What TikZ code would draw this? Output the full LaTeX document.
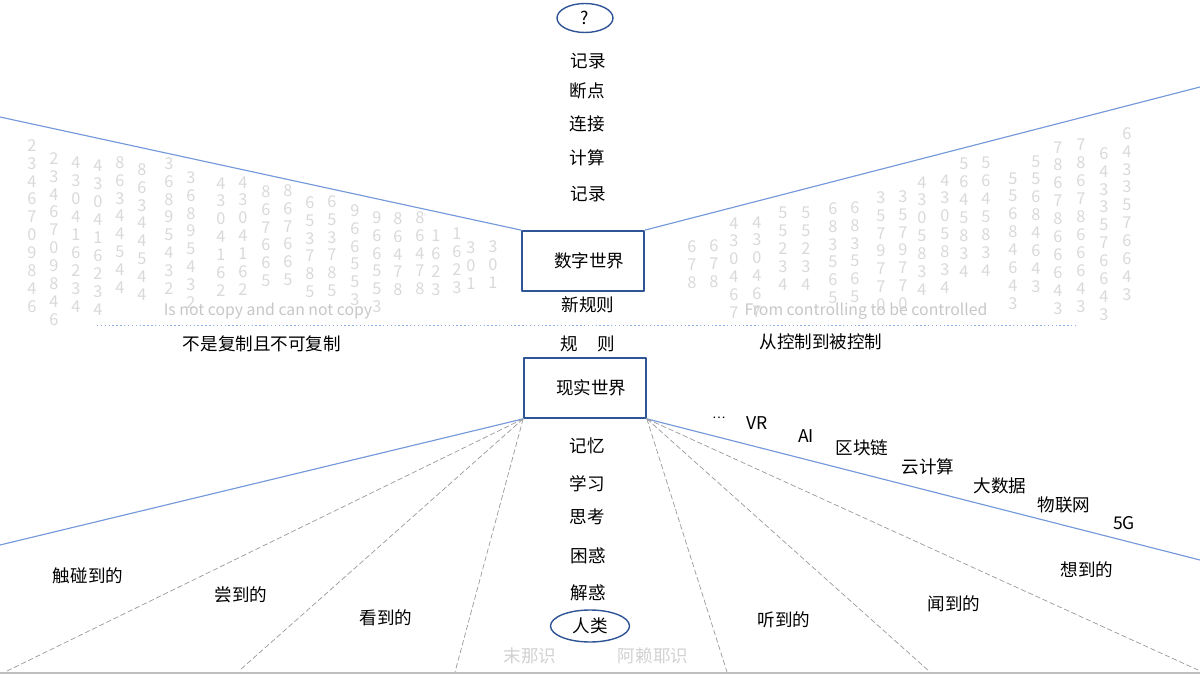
\documentclass[tikz,border=0pt]{standalone}
\usepackage{fontspec}
\setmainfont{Noto Sans CJK SC}
\usepackage{xcolor}
\usetikzlibrary{shapes.geometric}
\definecolor{boxblue}{HTML}{2F5597}
\definecolor{lineblue}{HTML}{7398DB}
\tikzset{
  every picture/.style={line join=round},
}

\begin{document}
\begin{tikzpicture}[
  x=0.02cm,y=-0.02cm,
  every node/.style={font=\fontsize{10}{12}\selectfont},
  box/.style={draw=boxblue,line width=1pt,minimum width=2.44cm,minimum height=1.2cm,inner sep=0pt},
  oval/.style={draw=boxblue,ellipse,line width=0.8pt,inner sep=0pt},
  lab/.style={inner sep=1pt},
  faint/.style={text=black!22,inner sep=0pt,font=\fontsize{9}{11}\selectfont},
  dig/.style={text=black!15,font=\fontsize{9.3}{10.2}\selectfont,align=center,anchor=north,inner sep=0pt},
  blueln/.style={draw=lineblue,line width=0.65pt},
  greydash/.style={draw=black!40,line width=0.4pt,dash pattern=on 3pt off 1.5pt},
  sep/.style={draw=lineblue!80,line width=0.5pt,dash pattern=on 0.8pt off 1.4pt}
]
\useasboundingbox (0,0) rectangle (1200,675);

% faint digit columns
\foreach \x/\y/\d [count=\i] in {
  32/145/{2\\3\\4\\6\\7\\0\\9\\8\\4\\6}, 54/158/{2\\3\\4\\6\\7\\0\\9\\8\\4\\6},
  76/163/{4\\3\\0\\4\\1\\6\\2\\3\\4}, 98/166/{4\\3\\0\\4\\1\\6\\2\\3\\4},
  120/162/{8\\6\\3\\4\\4\\5\\4\\4}, 142/169/{8\\6\\3\\4\\4\\5\\4\\4},
  169/163/{3\\6\\8\\9\\5\\4\\3\\2}, 191/177/{3\\6\\8\\9\\5\\4\\3\\2},
  221/183/{4\\3\\0\\4\\1\\6\\2}, 243/182/{4\\3\\0\\4\\1\\6\\2},
  266/191/{8\\6\\7\\6\\6\\5}, 288/190/{8\\6\\7\\6\\6\\5},
  310/202/{6\\5\\3\\7\\8\\5}, 332/201/{6\\5\\3\\7\\8\\5},
  355/210/{9\\6\\6\\5\\5\\3}, 377/217/{9\\6\\6\\5\\5\\3},
  398/218/{8\\6\\4\\7\\8}, 420/217/{8\\6\\4\\7\\8},
  436/236/{1\\6\\2\\3}, 457/234/{1\\6\\2\\3},
  471/247/{3\\0\\1}, 493/246/{3\\0\\1}}
  \node[dig] (ld\i) at (\x,\y-6) {\d};

\foreach \x/\y/\d [count=\i] in {
  692/246/{6\\7\\8}, 714/245/{6\\7\\8},
  734/223/{4\\3\\0\\4\\6\\7}, 757/222/{4\\3\\0\\4\\6\\7},
  783/213/{5\\5\\2\\3\\4}, 806/213/{5\\5\\2\\3\\4},
  833/208/{6\\8\\3\\5\\6\\5}, 855/207/{6\\8\\3\\5\\6\\5},
  881/197/{3\\5\\7\\9\\7\\7\\0}, 903/196/{3\\5\\7\\9\\7\\7\\0},
  922/182/{4\\3\\0\\5\\8\\3\\4}, 945/180/{4\\3\\0\\5\\8\\3\\4},
  964/164/{5\\6\\4\\5\\8\\3\\4}, 986/163/{5\\6\\4\\5\\8\\3\\4},
  1013/178/{5\\5\\6\\8\\4\\6\\4\\3}, 1036/161/{5\\5\\6\\8\\4\\6\\4\\3},
  1058/147/{7\\8\\6\\7\\8\\6\\6\\6\\4\\3}, 1081/145/{7\\8\\6\\7\\8\\6\\6\\6\\4\\3},
  1104/153/{6\\4\\3\\3\\5\\7\\6\\6\\4\\3}, 1127/133/{6\\4\\3\\3\\5\\7\\6\\6\\4\\3}}
  \node[dig] (rd\i) at (\x,\y-6) {\d};

\node[faint] (notcopy) at (268,311) {Is not copy and can not copy};
\node[faint] (fromctrl) at (866,311) {From controlling to be controlled};

% top column
\node[oval,minimum width=1.12cm,minimum height=0.58cm] (q) at (585,18) {?};
\node[lab] (rec1) at (588,61) {记录};
\node[lab] (brk) at (587,91) {断点};
\node[lab] (conn) at (587,124) {连接};
\node[lab] (calc) at (587,158) {计算};
\node[lab] (rec2) at (588,194) {记录};

\node[box] (digital) at (583,261) {\hspace{7pt}数字世界};
\node[lab] (newrule) at (588,305) {新规则};

\node[lab] (rule) at (588,344) {规\hspace{1.1em}则};
\node[box] (real) at (585,388) {\hspace{7pt}现实世界};

\node[lab] (mem) at (587,446) {记忆};
\node[lab] (learn) at (587,484) {学习};
\node[lab] (think) at (587,517) {思考};
\node[lab] (puzzle) at (588,556) {困惑};
\node[lab] (solve) at (588,593) {解惑};
\node[oval,minimum width=1.58cm,minimum height=0.64cm] (human) at (590,626) {人类};
\node[lab,text=black!18] (mana) at (530,656) {末那识};
\node[lab,text=black!18] (alaya) at (653,656) {阿赖耶识};

% separator
\coordinate (sepl) at (97,325);
\coordinate (sepr) at (1075,325);
\draw[sep] (sepl) -- (sepr);
\node[lab] (notcopycn) at (262,344) {不是复制且不可复制};
\node[lab] (ctrlcn) at (821,342) {从控制到被控制};

% wedges
\coordinate (tl) at (0,117);
\coordinate (tr) at (1200,87);
\coordinate (bl) at (0,545);
\coordinate (br) at (1200,560);
\draw[blueln] (digital.north west) -- (tl);
\draw[blueln] (digital.north east) -- (tr);
\draw[blueln] (real.south west) -- (bl);
\draw[blueln] (real.south east) -- (br);

\coordinate (f1) at (5,672);
\coordinate (f2) at (240,670);
\coordinate (f3) at (455,672);
\coordinate (f4) at (727,672);
\coordinate (f5) at (930,672);
\coordinate (f6) at (1198,670);
\foreach \f in {f1,f2,f3}
  \draw[greydash] (real.south west) -- (\f);
\foreach \f in {f4,f5,f6}
  \draw[greydash] (real.south east) -- (\f);

\coordinate (gl) at (0,673);
\coordinate (gr) at (1200,673);
\draw[black!25,line width=0.8pt] (gl) -- (gr);

% senses
\node[lab] (touch) at (88,576) {触碰到的};
\node[lab] (taste) at (241,595) {尝到的};
\node[lab] (see) at (386,618) {看到的};
\node[lab] (hear) at (784,620) {听到的};
\node[lab] (smell) at (954,604) {闻到的};
\node[lab] (think2) at (1087,570) {想到的};

% technologies
\node[lab,font=\fontsize{7}{8}\selectfont] (dots) at (719,418) {…};
\node[lab] (vr) at (757,423) {VR};
\node[lab] (ai) at (806,436) {AI};
\node[lab] (chain) at (862,448) {区块链};
\node[lab] (cloud) at (928,467) {云计算};
\node[lab] (bigdata) at (1000,486) {大数据};
\node[lab] (iot) at (1064,505) {物联网};
\node[lab] (fiveg) at (1124,523) {5G};

\end{tikzpicture}
\end{document}
